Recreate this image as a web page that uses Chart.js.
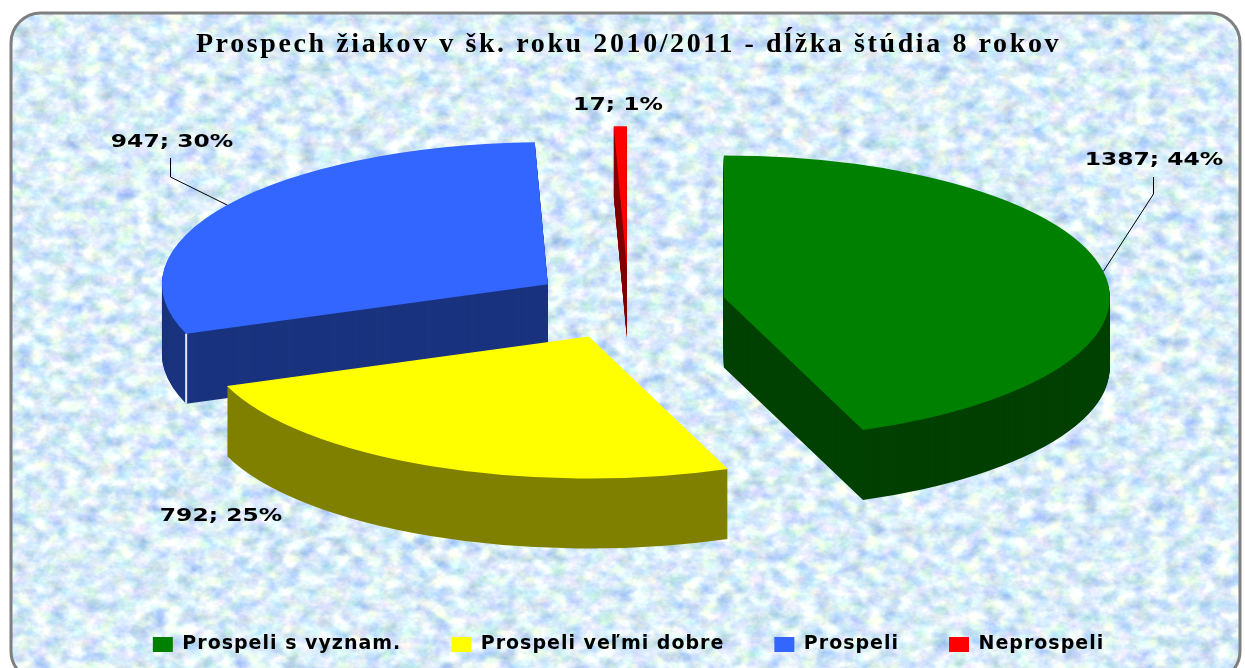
<!DOCTYPE html>
<html>
<head>
<meta charset="utf-8">
<title>Prospech žiakov</title>
<script src="https://cdn.jsdelivr.net/npm/chart.js@4/dist/chart.umd.min.js"></script>
<style>
  html, body { margin: 0; padding: 0; background: #fff; overflow: hidden; }
  #wrap { position: relative; width: 1245px; height: 668px; }
  #bg, #chart { position: absolute; left: 0; top: 0; }
</style>
</head>
<body>
<div id="wrap">
  <svg id="bg" width="1245" height="668">
    <filter id="mottle" x="0" y="0" width="100%" height="100%" color-interpolation-filters="sRGB">
      <feTurbulence type="fractalNoise" baseFrequency="0.06 0.08" numOctaves="4" seed="7"/>
      <feColorMatrix type="matrix" values="0.55 0.2 0 0 0.48  0.3 0.3 0 0 0.63  0.1 0 0.25 0 0.80  0 0 0 0 1"/>
    </filter>
    <clipPath id="round"><rect x="11" y="13" width="1229" height="668" rx="30"/></clipPath>
    <rect x="0" y="0" width="1245" height="690" filter="url(#mottle)" clip-path="url(#round)"/>
    <rect x="11" y="13" width="1229" height="668" rx="30" fill="none" stroke="#7f7f7f" stroke-width="3"/>
  </svg>
  <canvas id="chart" width="1245" height="668"></canvas>
</div>
<script>
const categories = ['Prospeli s vyznam.', 'Prospeli veľmi dobre', 'Prospeli', 'Neprospeli'];
const counts = [1387, 792, 947, 17];
const topColors = ['#008000', '#ffff00', '#3366ff', '#ff0000'];
const wallColors = ['#004000', '#808000', '#1a337f', '#800000'];

// look of the tilted pie
const TILT = 0.368;
const DEPTH = 70;
const EXPLODE = 97;
const PIE_CY = 304;
const PAINT_ORDER = [0, 2, 3, 1];

// label centre + leader elbow, per slice
const labelSpots = [
  { x: 1154, y: 160, elbow: [[1153, 177], [1153, 194]] },
  { x: 221, y: 516 },
  { x: 172, y: 142, elbow: [[170, 158], [170, 177]] },
  { x: 618, y: 105 }
];

const ctxOf = c => c.ctx;

function sliceOptions(color) {
  return { backgroundColor: color, borderColor: color, borderWidth: 0, borderAlign: 'center',
    offset: 0, spacing: 0, circular: true, borderRadius: 0, borderJoinStyle: 'round', borderDash: [], borderDashOffset: 0 };
}

function midAngle(arc) { return (arc.startAngle + arc.endAngle) / 2; }

// same tilt transform for every layer of a slice
function paintLayer(ctx, arc, color, dy) {
  const mid = midAngle(arc);
  ctx.save();
  ctx.translate(arc.x + Math.cos(mid) * EXPLODE, PIE_CY + Math.sin(mid) * EXPLODE * TILT + dy);
  ctx.scale(1, TILT);
  ctx.translate(-arc.x, -arc.y);
  arc.options = sliceOptions(color);
  arc.draw(ctx);
  ctx.restore();
}

function rimPoint(arc, angle) {
  const mid = midAngle(arc);
  return [
    arc.x + Math.cos(mid) * EXPLODE + Math.cos(angle) * arc.outerRadius,
    PIE_CY + Math.sin(mid) * EXPLODE * TILT + Math.sin(angle) * arc.outerRadius * TILT
  ];
}

const pie3d = {
  id: 'pie3d',
  beforeUpdate(chart) { ctxOf(chart).letterSpacing = '1px'; },
  afterLayout(chart) {
    const t = chart.titleBlock;
    if (t && !t._wrapped) {
      const orig = t.draw;
      t.draw = function () {
        const ctx = ctxOf(chart);
        ctx.letterSpacing = '2.6px';
        orig.call(this);
        ctx.letterSpacing = '1px';
      };
      t._wrapped = true;
    }
  },
  beforeDatasetsDraw(chart) {
    const ctx = ctxOf(chart);
    const arcs = chart.getDatasetMeta(0).data;
    PAINT_ORDER.forEach(i => {
      const arc = arcs[i];
      for (let dy = DEPTH; dy > 0; dy--) paintLayer(ctx, arc, wallColors[i], dy);
      paintLayer(ctx, arc, topColors[i], 0);
      if (i === 2) {
        // light seam on the blue slice edge
        const p = rimPoint(arc, arc.startAngle);
        ctx.save();
        ctx.strokeStyle = '#dfe8f5';
        ctx.lineWidth = 2;
        ctx.beginPath();
        ctx.moveTo(p[0], p[1]);
        ctx.lineTo(p[0], p[1] + DEPTH);
        ctx.stroke();
        ctx.restore();
      }
    });
    return false;
  },
  afterDraw(chart) {
    const ctx = ctxOf(chart);
    const arcs = chart.getDatasetMeta(0).data;
    const total = counts.reduce((a, b) => a + b, 0);
    ctx.save();
    ctx.letterSpacing = '0px';
    ctx.font = 'bold 18px "DejaVu Sans"';
    ctx.textAlign = 'center';
    ctx.textBaseline = 'middle';
    ctx.fillStyle = '#000';
    counts.forEach((v, i) => {
      const spot = labelSpots[i];
      if (spot.elbow) {
        const end = rimPoint(arcs[i], midAngle(arcs[i]));
        ctx.strokeStyle = '#000';
        ctx.lineWidth = 1;
        ctx.beginPath();
        ctx.moveTo(spot.elbow[0][0] + 0.5, spot.elbow[0][1]);
        ctx.lineTo(spot.elbow[1][0] + 0.5, spot.elbow[1][1]);
        ctx.lineTo(end[0], end[1]);
        ctx.stroke();
      }
      ctx.save();
      ctx.translate(spot.x, spot.y);
      ctx.scale(1.3, 1);
      ctx.fillText(v + '; ' + Math.round(v / total * 100) + '%', 0, 0);
      ctx.restore();
    });
    ctx.restore();
  }
};

new Chart(document.getElementById('chart'), {
  type: 'pie',
  plugins: [pie3d],
  data: {
    labels: categories,
    datasets: [{ data: counts, backgroundColor: topColors, borderWidth: 0 }]
  },
  options: {
    responsive: false,
    animation: false,
    radius: 386,
    layout: { padding: { left: 12, right: 0, top: 0, bottom: 4 } },
    plugins: {
      tooltip: { enabled: false },
      title: {
        display: true,
        text: 'Prospech žiakov v šk. roku 2010/2011 - dĺžka štúdia 8 rokov',
        color: '#000',
        font: { family: '"Liberation Serif"', size: 28, weight: 'bold' },
        padding: { top: 28, bottom: 10 }
      },
      legend: {
        position: 'bottom',
        labels: {
          color: '#000',
          font: { family: '"DejaVu Sans"', size: 19, weight: 'bold' },
          boxWidth: 20,
          boxHeight: 15,
          padding: 50
        }
      }
    }
  }
});
</script>
</body>
</html>
